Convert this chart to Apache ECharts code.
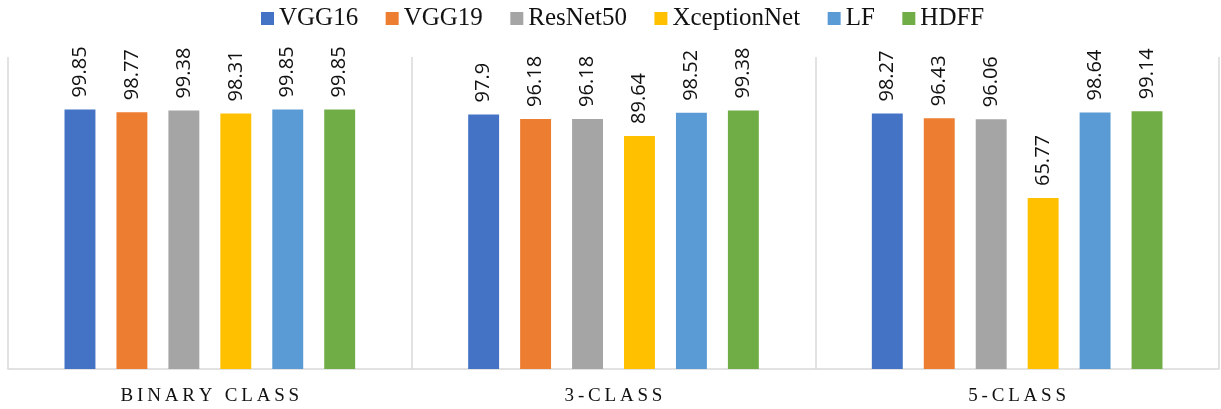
<!DOCTYPE html>
<html>
<head>
<meta charset="utf-8">
<script src="https://cdn.jsdelivr.net/npm/echarts@6/dist/echarts.min.js"></script>
<style>html,body{margin:0;padding:0;background:#fff}#c{width:1221px;height:409px}</style>
</head>
<body>
<div id="c"></div>
<script>
var categories = ["BINARY CLASS", "3-CLASS", "5-CLASS"];
var seriesNames = ["VGG16", "VGG19", "ResNet50", "XceptionNet", "LF", "HDFF"];
var vgg16 = [99.85, 97.9, 98.27];
var vgg19 = [98.77, 96.18, 96.43];
var resnet50 = [99.38, 96.18, 96.06];
var xceptionNet = [98.31, 89.64, 65.77];
var lf = [99.85, 98.52, 98.64];
var hdff = [99.85, 99.38, 99.14];
var values = [vgg16, vgg19, resnet50, xceptionNet, lf, hdff];
var colors = ["#4472C4", "#ED7D31", "#A5A5A5", "#FFC000", "#5B9BD5", "#70AD47"];

var chart = echarts.init(document.getElementById('c'));
var series = seriesNames.map(function (n, i) {
  return {
    name: n,
    type: 'bar',
    data: values[i],
    itemStyle: { color: colors[i] },
    barGap: '68%',
    barCategoryGap: '28%',
    label: {
      show: true,
      position: 'top',
      rotate: 90,
      align: 'left',
      verticalAlign: 'middle',
      distance: 12,
      fontFamily: 'Open Sans',
      fontSize: 20,
      color: '#111'
    }
  };
});
chart.setOption({
  animation: false,
  color: colors,
  legend: {
    top: 1,
    left: 256,
    itemWidth: 13,
    itemHeight: 13,
    itemGap: 27.5,
    icon: 'rect',
    textStyle: { fontFamily: 'Liberation Serif', fontSize: 25, color: '#111' },
    data: seriesNames
  },
  grid: { left: 8, right: 2, top: 57, bottom: 40 },
  xAxis: {
    type: 'category',
    data: categories,
    axisLine: { lineStyle: { color: '#d9d9d9', width: 1.5 } },
    axisTick: { show: false },
    splitLine: { show: true, lineStyle: { color: '#d9d9d9', width: 1.5 } },
    axisLabel: {
      margin: 18,
      fontFamily: 'Liberation Serif',
      fontSize: 19,
      color: '#111',
      formatter: function (v) { return v.split('').join('\u2009'); }
    }
  },
  yAxis: {
    type: 'value',
    min: 0,
    max: 120,
    show: false,
    splitLine: { show: false }
  },
  series: series
});
</script>
</body>
</html>
